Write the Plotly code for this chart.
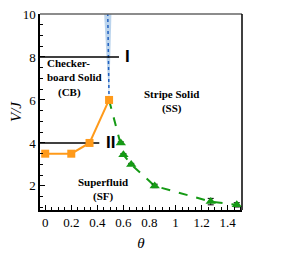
import plotly.graph_objects as go

# Data
cb_theta = [0.0, 0.2, 0.34, 0.49]
cb_V = [3.5, 3.5, 4.0, 6.0]

ss_theta = [0.49, 0.58, 0.60, 0.66, 0.84, 1.27, 1.47]
ss_V = [6.0, 4.0, 3.45, 3.0, 2.0, 1.27, 1.12]
ss_err = [0, 0.05, 0.05, 0.05, 0.08, 0.15, 0.1]

blue_theta = [0.49, 0.48]
blue_V = [6.0, 10.0]
band_theta = [0.49, 0.452, 0.508, 0.49]
band_V = [6.0, 10.0, 10.0, 6.0]

cut_I_theta = [-0.04, 0.566]
cut_I_V = [8, 8]
cut_II_theta = [-0.04, 0.415]
cut_II_V = [4, 4]

xticks = [0, 0.2, 0.4, 0.6, 0.8, 1, 1.2, 1.4]
xticklabels = ["0", "0.2", "0.4", "0.6", "0.8", "1", "1.2", "1.4"]
yticks = [2, 4, 6, 8, 10]

ORANGE = "#FF9A1A"
GREEN = "#159A15"
SERIF = "Liberation Serif, Times New Roman, serif"

fig = go.Figure()

fig.add_trace(go.Scatter(x=band_theta, y=band_V, fill="toself", mode="none",
                         fillcolor="rgba(120,170,220,0.5)", showlegend=False))
fig.add_trace(go.Scatter(x=blue_theta, y=blue_V, mode="lines",
                         line=dict(color="#2060C0", width=1.5, dash="dot"), showlegend=False))
fig.add_trace(go.Scatter(x=cut_I_theta, y=cut_I_V, mode="lines",
                         line=dict(color="black", width=1.5), showlegend=False))
fig.add_trace(go.Scatter(x=cut_II_theta, y=cut_II_V, mode="lines",
                         line=dict(color="black", width=1.5), showlegend=False))
fig.add_trace(go.Scatter(x=ss_theta, y=ss_V, mode="lines",
                         line=dict(color=GREEN, width=2, dash="dash"), showlegend=False))
fig.add_trace(go.Scatter(x=ss_theta[1:], y=ss_V[1:], mode="markers",
                         marker=dict(symbol="triangle-up", size=9, color=GREEN),
                         error_y=dict(type="data", array=ss_err[1:], color="black",
                                      thickness=1, width=3),
                         showlegend=False))
fig.add_trace(go.Scatter(x=cb_theta, y=cb_V, mode="lines+markers",
                         line=dict(color=ORANGE, width=2),
                         marker=dict(symbol="square", size=8, color=ORANGE),
                         showlegend=False))

tf = dict(family=SERIF, size=11, color="black")
fig.add_annotation(x=0.0, y=7.0, text="<b>Checker-<br>board Solid<br>    (CB)</b>",
                   showarrow=False, font=tf, align="left", xanchor="left")
fig.add_annotation(x=0.97, y=5.95, text="<b>Stripe Solid<br>(SS)</b>",
                   showarrow=False, font=tf, align="center")
fig.add_annotation(x=0.44, y=1.85, text="<b>Superfluid<br>(SF)</b>",
                   showarrow=False, font=tf, align="center")
fig.add_annotation(x=0.635, y=8, text="<b>I</b>", showarrow=False,
                   font=dict(family="Liberation Sans, Arial", size=17, color="black"))
fig.add_annotation(x=0.5, y=4, text="<b>II</b>", showarrow=False,
                   font=dict(family="Liberation Sans, Arial", size=17, color="black"))

fig.add_shape(type="line", xref="paper", yref="paper", x0=0, x1=1, y0=1, y1=1,
              line=dict(color="#666666", width=1.5))
fig.add_shape(type="line", xref="paper", yref="paper", x0=1, x1=1, y0=0, y1=1,
              line=dict(color="black", width=1.5))

axis_common = dict(showgrid=False, zeroline=False, showline=True, linecolor="black",
                   linewidth=1.5, ticks="inside", ticklen=5, tickcolor="black",
                   automargin=False, ticklabeloverflow="allow",
                   tickfont=dict(family=SERIF, size=13, color="black"))

fig.update_xaxes(range=[-0.04, 1.51], tickvals=xticks, ticktext=xticklabels,
                 minor=dict(dtick=0.05, ticks="inside", ticklen=3, tickcolor="black"),
                 title=dict(text="<i>θ</i>", font=dict(family=SERIF, size=15, color="black"),
                            standoff=8),
                 **axis_common)
fig.update_yaxes(range=[0.88, 10], tickvals=yticks,
                 minor=dict(dtick=0.5, ticks="inside", ticklen=3, tickcolor="black"),
                 title=dict(text="<i>V/J</i>", font=dict(family=SERIF, size=15, color="black"),
                            standoff=8),
                 **axis_common)

fig.update_layout(width=291, height=264, margin=dict(l=32, r=57, t=6, b=62),
                  plot_bgcolor="white", paper_bgcolor="white")

fig.write_html("out.html")
